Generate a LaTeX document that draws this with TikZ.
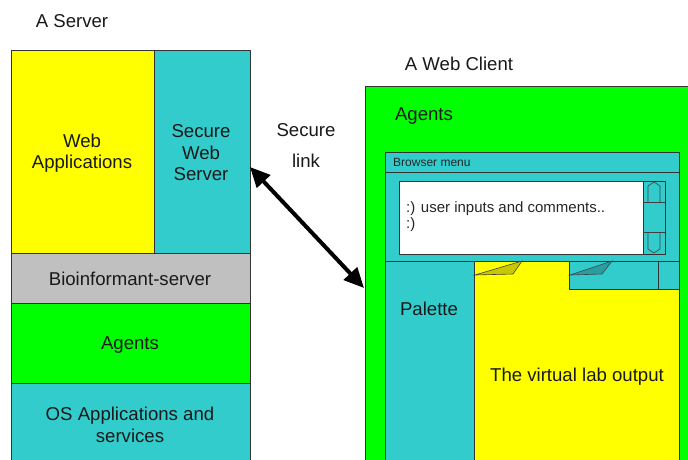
\documentclass[tikz,border=0pt]{standalone}
\usepackage{fontspec}
\setmainfont{Liberation Sans}
\usetikzlibrary{arrows.meta}
\definecolor{cyanL}{HTML}{33CCCC}
\definecolor{yel}{HTML}{FFFF00}
\definecolor{grn}{HTML}{00FF00}
\definecolor{gry}{HTML}{C0C0C0}
\definecolor{foldY}{HTML}{C8C800}
\definecolor{foldC}{HTML}{2A9E9E}
\begin{document}
\begin{tikzpicture}[x=1pt,y=-1pt,
  box/.style={draw=black!80, line width=0.8pt},
  thinline/.style={draw=black!75, line width=0.6pt},
  lbl/.style={font=\fontsize{18.6}{21.5}\selectfont, align=center, inner sep=0pt, text=black!90},
  small/.style={font=\fontsize{12}{14}\selectfont, inner sep=0pt, anchor=west, text=black!85},
  inputtxt/.style={font=\fontsize{15}{16}\selectfont, inner sep=0pt, anchor=west, align=left, text=black!85},
  linkarrow/.style={line width=4pt, {Triangle[length=20pt,width=18pt]}-{Triangle[length=20pt,width=18pt]}}]
\useasboundingbox (0,0) rectangle (688,459);
\clip (0,0) rectangle (688,459);

% ---------- Server ----------
\filldraw[box, fill=yel] (11,50) rectangle (154,253);
\filldraw[box, fill=cyanL] (154,50) rectangle (250,253);
\filldraw[box, fill=gry] (11,253) rectangle (250,303);
\filldraw[box, fill=grn] (11,303) rectangle (250,383);
\filldraw[box, fill=cyanL] (11,383) rectangle (250,470);

\node[lbl] (aserver) at (72,21) {A Server};
\node[lbl] (webapp) at (82,153) {Web\\Applications};
\node[lbl] (secweb) at (201,153) {Secure\\Web\\Server};
\node[lbl] (bio) at (130,279) {Bioinformant-server};
\node[lbl] (sagents) at (130,345.5) {Agents};
\node[lbl] (osapp) at (130,425) {OS Applications and\\services};

% ---------- Link ----------
\node[lbl] (secure) at (306,130) {Secure};
\node[lbl] (link) at (306,161) {link};

% ---------- Client ----------
\node[lbl] (webclient) at (459,64) {A Web Client};
\filldraw[box, fill=grn] (365,86) rectangle (700,470);
\node[lbl] (cagents) at (424,116) {Agents};

\filldraw[box, fill=cyanL] (385,152) rectangle (679,470);
\draw[box] (385,172) -- (679,172);
\node[small] (bmenu) at (393,162) {Browser menu};

% text area
\filldraw[box, fill=white] (399,181) rectangle (643,254);
\node[inputtxt] (uin) at (406,217) {:) user inputs and comments..\\:)};

% scrollbar
\filldraw[box, fill=cyanL] (643,181) rectangle (665,254);
\draw[thinline] (643,202) -- (665,202);
\draw[thinline] (643,232) -- (665,232);
\draw[thinline] (648,202) -- (648,186) -- (654,182) -- (660,186) -- (660,202);
\draw[thinline] (648,232) -- (648,249) -- (654,253) -- (660,249) -- (660,232);

% tabs and panes
\draw[box] (385,261) -- (679,261);
\filldraw[box, fill=yel] (474,261) rectangle (679,470);
\filldraw[box, fill=cyanL] (569,261) rectangle (658,289);
\filldraw[box, fill=cyanL] (658,261) rectangle (679,289);
\draw[box] (474,261) -- (474,470);
\filldraw[thinline, fill=foldY] (475,275) -- (522,261) -- (513,274) -- cycle;
\filldraw[thinline, fill=foldC] (570,275) -- (612,261) -- (602,274) -- cycle;

\node[lbl] (palette) at (429,309) {Palette};
\node[lbl] (vlab) at (577,377) {The virtual lab output};

% ---------- Secure link arrow ----------
\coordinate (lA) at (250,167);
\coordinate (lB) at (364,288);
\draw[linkarrow] (lA) -- (lB);
\end{tikzpicture}
\end{document}
